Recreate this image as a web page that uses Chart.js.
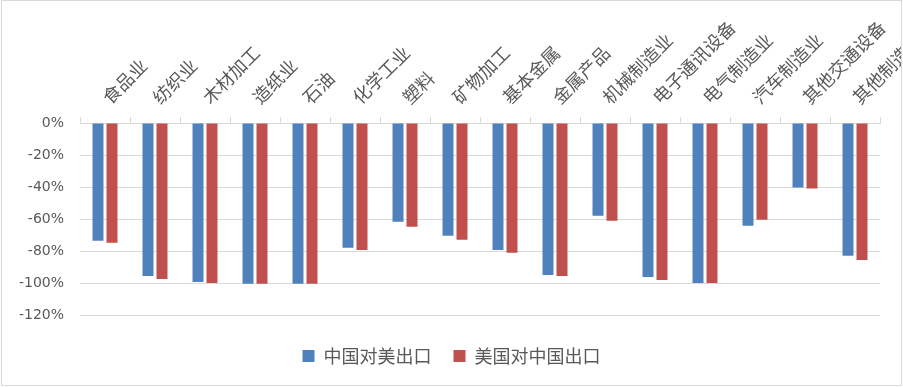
<!DOCTYPE html>
<html>
<head>
<meta charset="utf-8">
<script src="https://cdn.jsdelivr.net/npm/chart.js"></script>
<style>
  body { margin: 0; background: #fff; }
  #box { margin-left: 1px; width: 899px; height: 384px; border: 1px solid #d9d9d9; }
  canvas { display: block; }
</style>
</head>
<body>
<div id="box"><canvas id="chart" width="899" height="384"></canvas></div>
<script>
// 行业分类
const categories = [
  "食品业", "纺织业", "木材加工", "造纸业", "石油", "化学工业", "塑料", "矿物加工",
  "基本金属", "金属产品", "机械制造业", "电子通讯设备", "电气制造业", "汽车制造业",
  "其他交通设备", "其他制造业"
];
// values in percent
const chinaToUs = [-73.3, -95.2, -99.0, -100, -100, -77.7, -61.5, -70.2, -79.0, -94.6, -57.7, -95.8, -99.6, -64.0, -40.2, -82.7];
const usToChina = [-74.6, -97.1, -99.6, -100, -100, -79.0, -64.6, -72.7, -80.8, -95.2, -60.8, -97.7, -99.6, -60.2, -40.8, -85.2];
const seriesNames = ["中国对美出口", "美国对中国出口"];
const yTicks = { min: -120, max: 0, step: 20 };

const grey = "#d9d9d9";
const textGrey = "#595959";

const ctx = document.getElementById("chart").getContext("2d");
new Chart(ctx, {
  type: "bar",
  data: {
    labels: categories,
    datasets: [
      { label: seriesNames[0], data: chinaToUs, backgroundColor: "#4f81bd" },
      { label: seriesNames[1], data: usToChina, backgroundColor: "#c0504d" }
    ]
  },
  options: {
    responsive: false,
    animation: false,
    categoryPercentage: 0.56,
    barPercentage: 0.786,
    layout: { padding: { left: 0, right: 0, top: 0, bottom: 10 } },
    plugins: {
      tooltip: { enabled: false },
      legend: {
        position: "bottom",
        title: { display: true, text: "", font: { size: 1 }, padding: { top: 8, bottom: 0 } },
        labels: {
          boxWidth: 12,
          boxHeight: 12,
          padding: 22,
          color: textGrey,
          font: { family: "'Noto Sans CJK SC'", size: 18 }
        }
      }
    },
    scales: {
      x: {
        position: "top",
        grid: { offset: true, drawOnChartArea: false, color: grey, tickLength: 6 },
        border: { display: true, color: grey },
        ticks: {
          autoSkip: false,
          minRotation: 45,
          maxRotation: 45,
          padding: 9,
          labelOffset: 16,
          color: textGrey,
          font: { family: "'Noto Sans CJK SC'", size: 18 }
        },
        afterFit: (scale) => {
          scale.height = 122;
          scale.paddingLeft = 0;
          scale.paddingRight = 21; // keeps the plot off the right edge, labels run past it
        }
      },
      y: {
        min: yTicks.min,
        max: yTicks.max,
        grid: { color: grey, drawTicks: false },
        border: { display: false },
        ticks: {
          stepSize: yTicks.step,
          padding: 16,
          color: textGrey,
          font: { family: "'DejaVu Sans'", size: 14 },
          callback: (v) => v + "%"
        },
        afterFit: (scale) => { scale.width = 78; }
      }
    }
  }
});
</script>
</body>
</html>
